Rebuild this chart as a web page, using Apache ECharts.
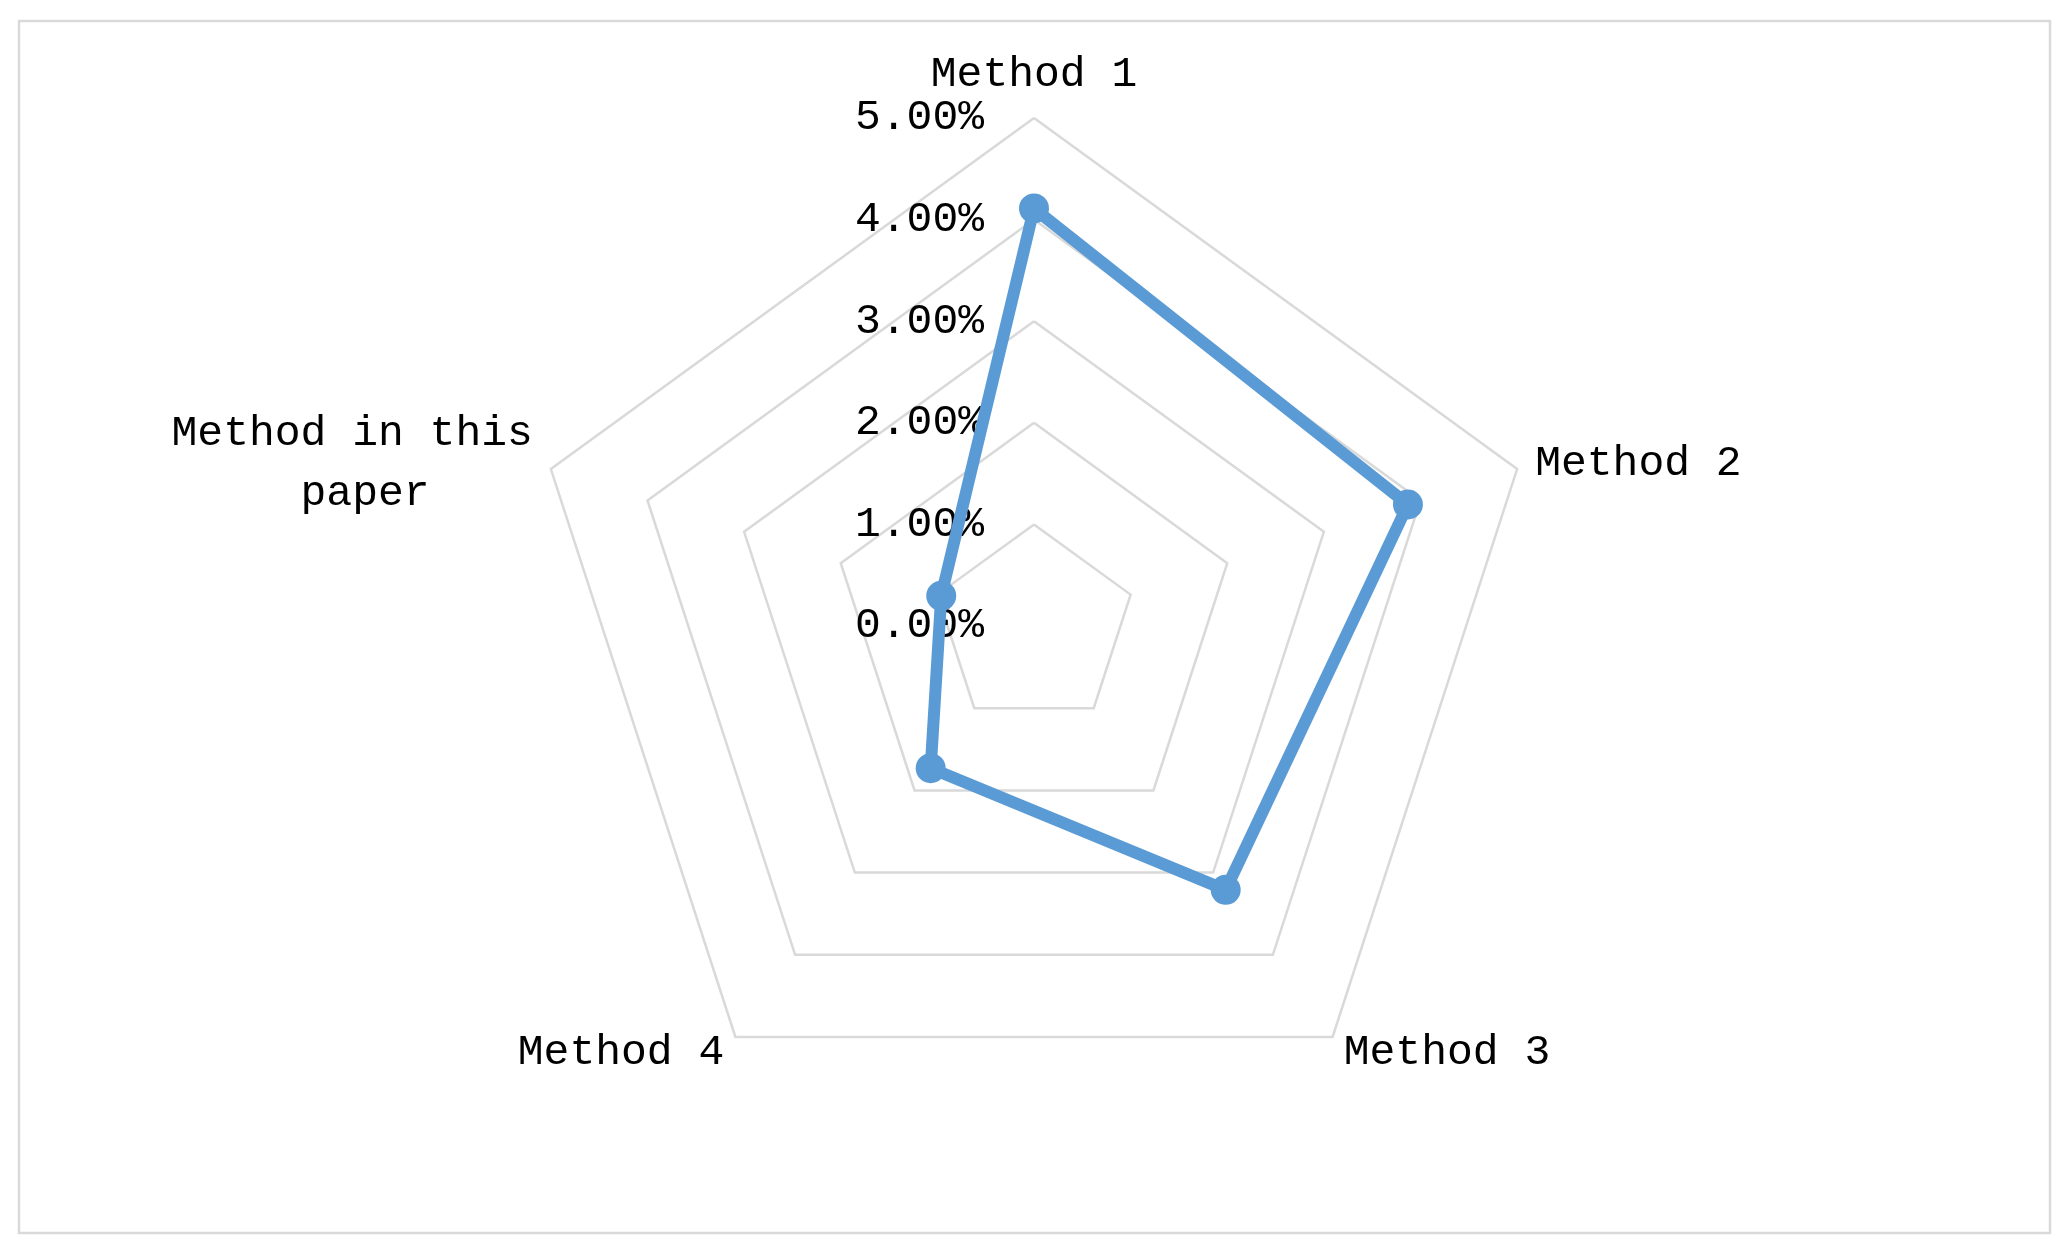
<!DOCTYPE html>
<html>
<head>
<meta charset="utf-8">
<title>Radar</title>
<script src="https://cdn.jsdelivr.net/npm/echarts@6/dist/echarts.min.js"></script>
<style>
  html, body { margin: 0; padding: 0; background: #fff; }
  #chart { width: 2068px; height: 1256px; }
</style>
</head>
<body>
<div id="chart"></div>
<script>
// indicator names, clockwise from the top
const methods = ['Method 1', 'Method 2', 'Method 3', 'Method 4', 'Method in this\npaper    ']
// error rate, in percent
const errorRates = [4.11, 3.87, 3.21, 1.73, 0.96]
const axisMax = 5

const font = '"Liberation Mono", "DejaVu Sans Mono", monospace'

const chart = echarts.init(document.getElementById('chart'))

// echarts lays the radar out counter-clockwise, so keep the first one and reverse the rest
const order = [0].concat(methods.map((m, i) => i).slice(1).reverse())

const indicator = order.map((i, k) => {
  const item = { name: methods[i], min: 0, max: axisMax }
  // only the top spoke carries tick labels
  if (k === 0) {
    item.axisLabel = { show: true }
  }
  if (methods[i].indexOf('\n') >= 0) {
    item.nameTextStyle = { lineHeight: 60 }
  }
  return item
})
const values = order.map((i) => errorRates[i])

const option = {
  backgroundColor: '#fff',
  animation: false,
  graphic: [
    {
      type: 'rect',
      shape: { x: 19, y: 21, width: 2031, height: 1212 },
      style: { fill: 'none', stroke: '#d9d9d9', lineWidth: 2.5 }
    }
  ],
  radar: {
    center: [1034, 626],
    radius: 508,
    startAngle: 90,
    splitNumber: 5,
    shape: 'polygon',
    indicator: indicator,
    nameGap: 19,
    axisName: {
      color: '#000',
      fontFamily: font,
      fontSize: 43
    },
    axisLine: { show: false },
    axisTick: { show: false },
    splitArea: { show: false },
    splitLine: {
      lineStyle: { color: '#d9d9d9', width: 2.5 }
    },
    axisLabel: {
      show: false,
      margin: 50,
      color: '#000',
      fontFamily: font,
      fontSize: 43,
      formatter: (v) => v.toFixed(2) + '%'
    }
  },
  series: [
    {
      type: 'radar',
      symbol: 'circle',
      symbolSize: 30,
      lineStyle: { color: '#5b9bd5', width: 12 },
      itemStyle: { color: '#5b9bd5' },
      data: [
        { value: values, name: 'Error rate' }
      ]
    }
  ]
}

chart.setOption(option)
</script>
</body>
</html>
